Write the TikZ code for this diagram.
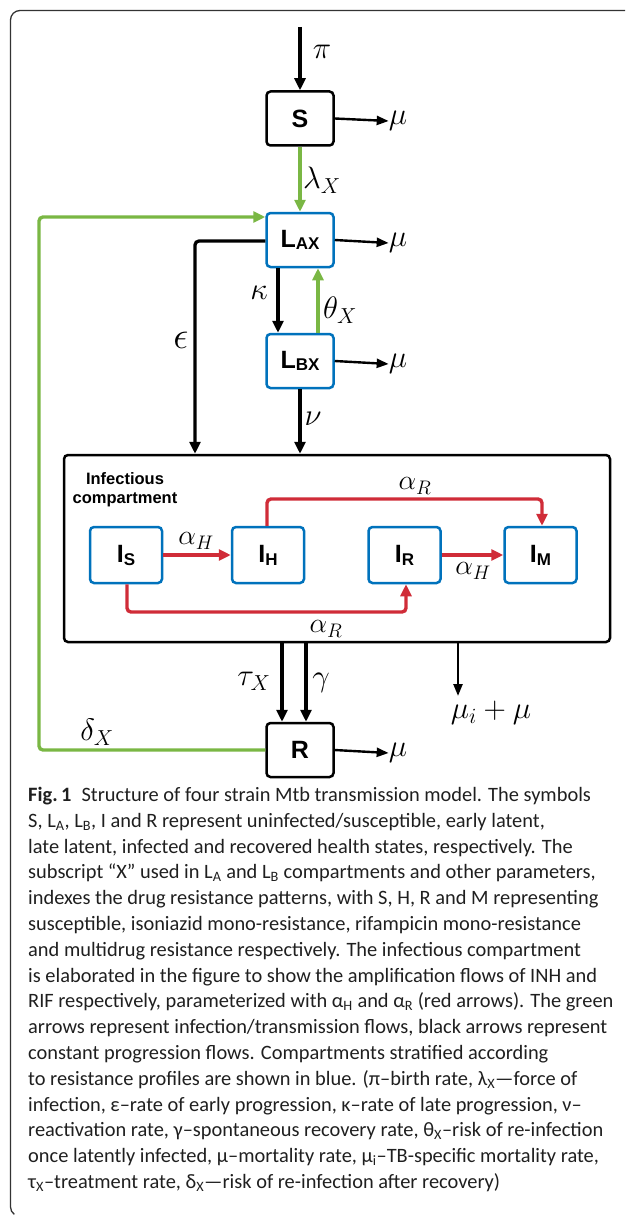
\documentclass[tikz,border=0pt]{standalone}
\usepackage{fix-cm}
\usepackage{fontspec}
\setmainfont{Carlito}
\newfontfamily\boxfont{Liberation Sans}
\newfontfamily\capfont{Carlito}
\usetikzlibrary{arrows.meta}
\definecolor{tbgreen}{RGB}{122,183,68}
\definecolor{tbblue}{RGB}{0,114,188}
\definecolor{tbred}{RGB}{208,44,56}
\newcommand{\sbs}[1]{\textsubscript{#1}}
\newcommand{\boxsub}[2][-1.5pt]{\raisebox{#1}{\fontsize{17}{17}\selectfont #2}}
\tikzset{
  comp/.style={rounded corners=4pt, line width=2.5pt, minimum width=67pt, minimum height=54pt,
    inner sep=0pt, font=\boxfont\bfseries\fontsize{25}{25}\selectfont},
  blackcomp/.style={comp, draw=black},
  bluecomp/.style={comp, draw=tbblue},
  icomp/.style={bluecomp, minimum width=72pt, minimum height=56pt},
  flow/.style={line width=3.3pt, -{Triangle[length=12pt,width=11pt]}},
  thinflow/.style={line width=2.4pt, -{Triangle[length=12pt,width=9pt]}},
  greenflow/.style={line width=3.4pt, tbgreen, rounded corners=4pt, -{Triangle[length=12pt,width=11pt]}},
  redflow/.style={line width=3.4pt, tbred, rounded corners=4pt, -{Triangle[length=12pt,width=11pt]}},
  lbl/.style={inner sep=0pt, font=\fontsize{31}{31}\selectfont},
  albl/.style={inner sep=0pt, font=\fontsize{28}{28}\selectfont},
}
\begin{document}
\begin{tikzpicture}[x=1pt,y=-1pt]
\useasboundingbox (0,0) rectangle (625,1217);
% outer frame
\draw[line width=1.3pt, black!80] (625,10.5) -- (20,10.5) arc[start angle=270, end angle=180, radius=9.5] -- (10.5,1207) arc[start angle=180, end angle=125, radius=9];

% compartments
\node[blackcomp] (S) at (300,118.5) {S};
\node[bluecomp] (LA) at (300,240) {L\boxsub{AX}};
\node[bluecomp] (LB) at (300,361) {L\boxsub{BX}};
\node[blackcomp] (R) at (300,750) {R};
\node[draw, line width=2.5pt, rounded corners=4pt, minimum width=546pt, minimum height=187pt, inner sep=0pt] (inf) at (337,548.5) {};
\node[inner sep=0pt, align=center, font=\boxfont\bfseries\fontsize{16.5}{19.5}\selectfont] (inflbl) at (125,489.5) {Infectious\\compartment};
\node[icomp] (IS) at (126,555) {I\boxsub[-3pt]{S}};
\node[icomp] (IH) at (268,555) {I\boxsub[-3pt]{H}};
\node[icomp] (IR) at (404.5,555) {I\boxsub[-3pt]{R}};
\node[icomp] (IM) at (540.5,555) {I\boxsub[-3pt]{M}};

% labels
\node[lbl] (pi) at (322,52) {$\pi$};
\node[lbl] (muS) at (398,121) {$\mu$};
\node[lbl] (muLA) at (398,243) {$\mu$};
\node[lbl] (muLB) at (398,364) {$\mu$};
\node[lbl] (muR) at (398,753) {$\mu$};
\node[lbl] (lam) at (322,180) {$\lambda_X$};
\node[lbl, font=\fontsize{38}{38}\selectfont] (eps) at (181,340) {$\epsilon$};
\node[lbl] (kap) at (259,293) {$\kappa$};
\node[lbl] (the) at (340,310) {$\theta_X$};
\node[lbl] (nu) at (313,419) {$\nu$};
\node[albl] (aH1) at (196,541) {$\alpha_H$};
\node[albl] (aH2) at (473,571) {$\alpha_H$};
\node[albl] (aR1) at (415,486) {$\alpha_R$};
\node[albl] (aR2) at (326,629) {$\alpha_R$};
\node[lbl] (tau) at (254,681) {$\tau_X$};
\node[lbl] (gam) at (321,683) {$\gamma$};
\node[lbl] (mui) at (491,713) {$\mu_i + \mu$};
\node[lbl] (del) at (97,732) {$\delta_X$};

% coordinates
\coordinate (pitop) at (300,27);
\coordinate (loopB) at (39,750);
\coordinate (loopT) at (39,217);
\coordinate (epsC) at (195,241);
\coordinate (kapX) at (278,0);
\coordinate (theX) at (318,0);
\coordinate (tauX) at (282,0);
\coordinate (gamX) at (306,0);
\coordinate (muiX) at (458,0);
\coordinate (muiEnd) at (458,696);
\coordinate (aRtop) at (267,499);
\coordinate (aRtopR) at (542,499);
\coordinate (aRbot) at (127,612);
\coordinate (aRbotR) at (406,612);

% black flows
\draw[flow] (pitop) -- (S.north);
\draw[thinflow] (S.east) -- (muS.west);
\draw[thinflow] (LA.east) -- (muLA.west);
\draw[thinflow] (LB.east) -- (muLB.west);
\draw[thinflow] (R.east) -- (muR.west);
\draw[flow, rounded corners=4pt] (LA.west |- epsC) -- (epsC) -- (epsC |- inf.north);
\draw[flow] (kapX |- LA.south) -- (kapX |- LB.north);
\draw[flow] (LB.south) -- (LB.south |- inf.north);
\draw[flow] (tauX |- inf.south) -- (tauX |- R.north);
\draw[flow] (gamX |- inf.south) -- (gamX |- R.north);
\draw[thinflow] (muiX |- inf.south) -- (muiEnd);

% green flows
\draw[greenflow] (S.south) -- (LA.north);
\draw[greenflow] (theX |- LB.north) -- (theX |- LA.south);
\draw[greenflow] (R.west) -- (loopB) -- (loopT) -- (loopT -| LA.west);

% red flows
\draw[redflow] (IS.east) -- (IH.west);
\draw[redflow] (IR.east) -- (IM.west);
\draw[redflow] (aRtop |- IH.north) -- (aRtop) -- (aRtopR) -- (aRtopR |- IM.north);
\draw[redflow] (aRbot |- IS.south) -- (aRbot) -- (aRbotR) -- (aRbotR |- IR.south);

% caption
\node[anchor=north west, inner sep=0pt, align=left, text=black!88,
  font=\capfont\fontsize{20.4}{25.8}\selectfont] (cap) at (28,787) {%
\textbf{Fig.\,1}\enspace Structure of four strain Mtb transmission model. The symbols\\
S, L\sbs{A}, L\sbs{B}, I and R represent uninfected/susceptible, early latent,\\
late latent, infected and recovered health states, respectively. The\\
subscript “X” used in L\sbs{A} and L\sbs{B} compartments and other parameters,\\
indexes the drug resistance patterns, with S, H, R and M representing\\
susceptible, isoniazid mono-resistance, rifampicin mono-resistance\\
and multidrug resistance respectively. The infectious compartment\\
is elaborated in the figure to show the amplification flows of INH and\\
RIF respectively, parameterized with α\sbs{H} and α\sbs{R} (red arrows). The green\\
arrows represent infection/transmission flows, black arrows represent\\
constant progression flows. Compartments stratified according\\
to resistance profiles are shown in blue. (π–birth rate, λ\sbs{X}—force of\\
infection, ε–rate of early progression, κ–rate of late progression, ν–\\
reactivation rate, γ–spontaneous recovery rate, θ\sbs{X}–risk of re-infection\\
once latently infected, μ–mortality rate, μ\sbs{i}–TB-specific mortality rate,\\
τ\sbs{X}–treatment rate, δ\sbs{X}—risk of re-infection after recovery)};
\end{tikzpicture}
\end{document}
